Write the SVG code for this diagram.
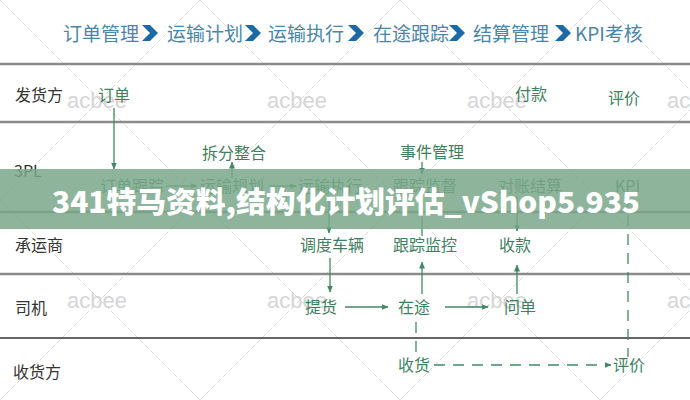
<svg xmlns="http://www.w3.org/2000/svg" width="690" height="400" viewBox="0 0 690 400">
<style>
.hdr{font-family:"Noto Sans CJK SC","Liberation Sans",sans-serif;font-size:19px;fill:#4a86a8}
.lbl{font-family:"Noto Sans CJK SC","Liberation Sans",sans-serif;font-size:16px;fill:#333}
.nd{font-family:"Noto Sans CJK SC","Liberation Sans",sans-serif;font-size:16px;fill:#3f7f5e}
.wm{font-family:"Liberation Sans",sans-serif;font-size:22px;fill:#d6d6d6}
.diag{stroke:#cfcfcf;stroke-width:0.8;stroke-dasharray:5 3;fill:none}
.sep{stroke:#8c8c8c;stroke-width:2.5}
.con{stroke:#3f8a63;stroke-width:1.3;fill:none}
.dash{stroke:#3f8a63;stroke-width:1.3;fill:none;stroke-dasharray:11 8}
.chev{fill:#1b69a6}
.ban{font-family:"Noto Sans CJK SC","Liberation Sans",sans-serif;font-size:29px;font-weight:900;fill:#fff}
</style>
<defs>
<marker id="ah" markerWidth="7" markerHeight="6" refX="6.5" refY="3" orient="auto" markerUnits="userSpaceOnUse">
<path d="M0,0 L7,3 L0,6 Z" fill="#3f8a63"/>
</marker>
</defs>
<rect width="690" height="400" fill="#fff"/>
<g id="watermark-lattice">
<line class="diag" x1="-400" y1="0" x2="0" y2="400"/>
<line class="diag" x1="-200" y1="0" x2="200" y2="400"/>
<line class="diag" x1="0" y1="0" x2="400" y2="400"/>
<line class="diag" x1="200" y1="0" x2="600" y2="400"/>
<line class="diag" x1="400" y1="0" x2="800" y2="400"/>
<line class="diag" x1="600" y1="0" x2="1000" y2="400"/>
<line class="diag" x1="200" y1="0" x2="-200" y2="400"/>
<line class="diag" x1="400" y1="0" x2="0" y2="400"/>
<line class="diag" x1="600" y1="0" x2="200" y2="400"/>
<line class="diag" x1="800" y1="0" x2="400" y2="400"/>
<line class="diag" x1="1000" y1="0" x2="600" y2="400"/>
<text class="wm" x="67" y="108">acbee</text>
<text class="wm" x="267" y="108">acbee</text>
<text class="wm" x="467" y="108">acbee</text>
<text class="wm" x="667" y="108">acbee</text>
<text class="wm" x="67" y="308">acbee</text>
<text class="wm" x="267" y="308">acbee</text>
<text class="wm" x="467" y="308">acbee</text>
<text class="wm" x="667" y="308">acbee</text>
</g>
<g id="header">
<text class="hdr" x="63" y="41">订单管理</text>
<path class="chev" d="M142,25 L150,25 L158,33 L150,41 L142,41 L150,33 Z"/>
<text class="hdr" x="167" y="41">运输计划</text>
<path class="chev" d="M245,25 L253,25 L261,33 L253,41 L245,41 L253,33 Z"/>
<text class="hdr" x="268" y="41">运输执行</text>
<path class="chev" d="M348,25 L356,25 L364,33 L356,41 L348,41 L356,33 Z"/>
<text class="hdr" x="373" y="41">在途跟踪</text>
<path class="chev" d="M449,25 L457,25 L465,33 L457,41 L449,41 L457,33 Z"/>
<text class="hdr" x="473" y="41">结算管理</text>
<path class="chev" d="M555,25 L563,25 L571,33 L563,41 L555,41 L563,33 Z"/>
<text class="hdr" x="575" y="41">KPI考核</text>
</g>
<g id="lanes">
<line class="sep" x1="0" y1="64" x2="690" y2="64"/>
<line class="sep" x1="0" y1="122" x2="690" y2="122" stroke-width="2"/>
<line class="sep" x1="0" y1="212" x2="690" y2="212" stroke-width="1.5" stroke="#444"/>
<line class="sep" x1="0" y1="274" x2="690" y2="274" stroke-width="2"/>
<line x1="0" y1="338" x2="690" y2="338" stroke="#333" stroke-width="1.3"/>
<text class="lbl" x="15" y="101">发货方</text>
<text class="lbl" x="14" y="177" font-family="Liberation Sans" font-size="15">3PL</text>
<text class="lbl" x="15" y="251">承运商</text>
<text class="lbl" x="15" y="314">司机</text>
<text class="lbl" x="13" y="378">收货方</text>
</g>
<g id="connectors">
<line class="con" x1="114" y1="108" x2="114" y2="169" marker-end="url(#ah)"/>
<line class="con" x1="232" y1="178" x2="232" y2="162" marker-end="url(#ah)"/>
<line class="con" x1="422" y1="162" x2="422" y2="174" marker-end="url(#ah)"/>
<line class="con" x1="166" y1="186" x2="197" y2="186" marker-end="url(#ah)"/>
<line class="con" x1="269" y1="186" x2="296" y2="186" marker-end="url(#ah)"/>
<line class="con" x1="329" y1="196" x2="329" y2="233" marker-end="url(#ah)"/>
<line class="con" x1="422" y1="236" x2="422" y2="198"/>
<line class="con" x1="517" y1="196" x2="517" y2="231" marker-end="url(#ah)"/>
<line class="con" x1="330" y1="258" x2="330" y2="292" marker-end="url(#ah)"/>
<line class="con" x1="422" y1="294" x2="422" y2="262" marker-end="url(#ah)"/>
<line class="con" x1="517" y1="294" x2="517" y2="265" marker-end="url(#ah)"/>
<line class="con" x1="345" y1="307" x2="388" y2="307" marker-end="url(#ah)"/>
<line class="con" x1="445" y1="307" x2="488" y2="307" marker-end="url(#ah)"/>
<line class="dash" x1="628" y1="196" x2="628" y2="357"/>
<line class="dash" x1="416" y1="322" x2="416" y2="356"/>
<line class="dash" x1="434" y1="365" x2="611" y2="365" marker-end="url(#ah)"/>
</g>
<g id="n-dingdan"><text class="nd" x="98" y="101">订单</text></g>
<g id="n-fukuan"><text class="nd" x="515" y="100">付款</text></g>
<g id="n-pingjia1"><text class="nd" x="608" y="104">评价</text></g>
<g id="n-chaifen"><text class="nd" x="202" y="159">拆分整合</text></g>
<g id="n-shijian"><text class="nd" x="400" y="158">事件管理</text></g>
<g id="n-ddgz"><text class="nd" x="100" y="192">订单跟踪</text></g>
<g id="n-ysgh"><text class="nd" x="200" y="192">运输规划</text></g>
<g id="n-yszx"><text class="nd" x="298" y="192">运输执行</text></g>
<g id="n-gzjd"><text class="nd" x="393" y="192">跟踪监督</text></g>
<g id="n-dzjs"><text class="nd" x="498" y="192">对账结算</text></g>
<g id="n-kpi"><text class="nd" x="615" y="192">KPI</text></g>
<g id="n-ddcl"><text class="nd" x="300" y="251">调度车辆</text></g>
<g id="n-gzjk"><text class="nd" x="393" y="251">跟踪监控</text></g>
<g id="n-shoukuan"><text class="nd" x="499" y="251">收款</text></g>
<g id="n-tihuo"><text class="nd" x="305" y="313">提货</text></g>
<g id="n-zaitu"><text class="nd" x="398" y="313">在途</text></g>
<g id="n-wendan"><text class="nd" x="504" y="313">问单</text></g>
<g id="n-shouhuo"><text class="nd" x="398" y="371">收货</text></g>
<g id="n-pingjia2"><text class="nd" x="613" y="371">评价</text></g>
<g id="banner">
<rect x="0" y="169" width="690" height="60" fill="#78a789" opacity="0.84"/>
<text class="ban" x="52" y="213" textLength="588" lengthAdjust="spacingAndGlyphs">341特马资料,结构化计划评估_vShop5.935</text>
</g>
</svg>
